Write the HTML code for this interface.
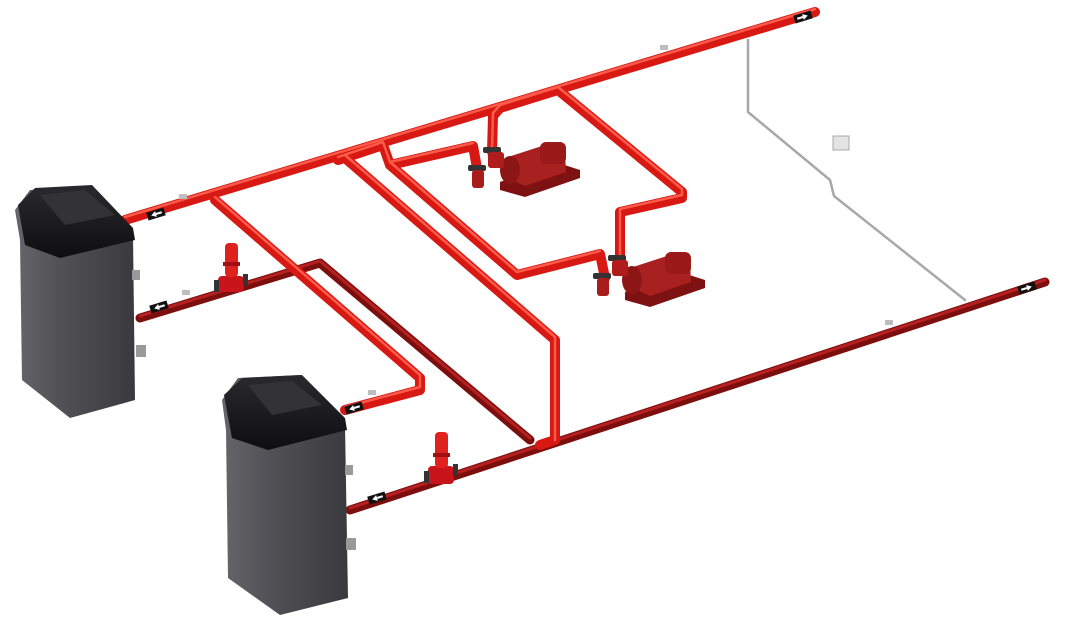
<!DOCTYPE html>
<html><head><meta charset="utf-8"><style>
html,body{margin:0;padding:0;background:#fff;width:1069px;height:630px;overflow:hidden}
svg{display:block}
</style></head><body>
<svg width="1069" height="630" viewBox="0 0 1069 630" xmlns="http://www.w3.org/2000/svg">
<defs>
<linearGradient id="bod" x1="0" x2="1"><stop offset="0" stop-color="#66666a"/><stop offset="0.35" stop-color="#525257"/><stop offset="1" stop-color="#3a3a3e"/></linearGradient>
<linearGradient id="top" x1="0" y1="0" x2="0" y2="1"><stop offset="0" stop-color="#2a2a2c"/><stop offset="1" stop-color="#0e0e10"/></linearGradient>
</defs>
<g fill="none" stroke-linecap="round" stroke-linejoin="round">
<polyline points="748,40 748,112 830,180 834,196 965,300" stroke="#a8a8a8" stroke-width="2.5"/>
<g stroke="#7d0e0e" stroke-width="9">
<polyline points="140,318 320,263 530,440"/>
<polyline points="350,510 1045,282"/>
</g>
<g stroke="#b52020" stroke-width="3">
<polyline points="140,316 320,261 530,438"/>
<polyline points="350,508 1045,280"/>
</g>
<g stroke="#d81812" stroke-width="10">
<polyline points="125,220 815,12"/>
<polyline points="215,200 420,378 420,390 345,410"/>
<polyline points="345,158 555,340 555,440 540,445"/>
<polyline points="338,160 383,145 390,165 473,146 477,168"/>
<polyline points="390,165 517,275 600,254 605,278"/>
<polyline points="558,90 682,192 682,198 620,212 620,258"/>
<polyline points="558,90 500,108 493,116 492,152"/>
</g>
<g stroke="#ff5a4a" stroke-width="2.5">
<polyline points="125,217 815,9"/>
<polyline points="215,197 420,375 420,387 345,407"/>
<polyline points="345,155 555,337 555,440"/>
<polyline points="338,157 383,142 390,162 473,143"/>
<polyline points="390,162 517,272 600,251"/>
<polyline points="558,87 682,189 682,195 620,209 620,258"/>
<polyline points="558,87 500,105 493,113 492,150"/>
</g>
</g>
<g fill="#bdbdbd">
<rect x="179" y="194" width="8" height="5"/><rect x="182" y="290" width="8" height="5"/>
<rect x="368" y="390" width="8" height="5"/><rect x="660" y="45" width="8" height="5"/>
<rect x="885" y="320" width="8" height="5"/>
</g>
<rect x="833" y="136" width="16" height="14" fill="#e4e4e4" stroke="#aaa"/>
<g>
<g transform="rotate(-17 156 214)"><rect x="147" y="210" width="18" height="8" fill="#111"/><polygon points="151,214 156,211 156,217" fill="#fff"/><rect x="156" y="213" width="6" height="2" fill="#fff"/></g>
<g transform="rotate(-17 159 307)"><rect x="150" y="303" width="18" height="8" fill="#111"/><polygon points="154,307 159,304 159,310" fill="#fff"/><rect x="159" y="306" width="6" height="2" fill="#fff"/></g>
<g transform="rotate(-17 354 408)"><rect x="345" y="404" width="18" height="8" fill="#111"/><polygon points="349,408 354,405 354,411" fill="#fff"/><rect x="354" y="407" width="6" height="2" fill="#fff"/></g>
<g transform="rotate(-17 377 498)"><rect x="368" y="494" width="18" height="8" fill="#111"/><polygon points="372,498 377,495 377,501" fill="#fff"/><rect x="377" y="497" width="6" height="2" fill="#fff"/></g>
<g transform="rotate(-17 803 17)"><rect x="794" y="13" width="18" height="8" fill="#111"/><polygon points="808,17 803,14 803,20" fill="#fff"/><rect x="797" y="16" width="6" height="2" fill="#fff"/></g>
<g transform="rotate(-17 1027 288)"><rect x="1018" y="284" width="18" height="8" fill="#111"/><polygon points="1032,288 1027,285 1027,291" fill="#fff"/><rect x="1021" y="287" width="6" height="2" fill="#fff"/></g>
</g>
<!-- inline pumps -->
<g>
<rect x="218" y="276" width="26" height="16" rx="4" fill="#c8141a"/><rect x="214" y="280" width="5" height="12" fill="#333"/><rect x="243" y="274" width="5" height="12" fill="#333"/>
<rect x="225" y="243" width="13" height="34" rx="4" fill="#e0221f"/><rect x="223" y="262" width="17" height="4" fill="#a01010"/>
<rect x="428" y="466" width="26" height="18" rx="4" fill="#c8141a"/><rect x="424" y="471" width="5" height="12" fill="#333"/><rect x="453" y="464" width="5" height="12" fill="#333"/>
<rect x="435" y="432" width="13" height="36" rx="4" fill="#e0221f"/><rect x="433" y="453" width="17" height="4" fill="#a01010"/>
</g>
<!-- base mounted pumps -->
<g>
<polygon points="500,182 555,162 580,170 580,178 525,197 500,190" fill="#7e1212"/>
<polygon points="505,158 545,145 565,152 566,172 525,186 508,178" fill="#a82020"/>
<rect x="540" y="142" width="26" height="22" rx="6" fill="#9a1a1a"/>
<ellipse cx="510" cy="170" rx="10" ry="14" fill="#8c1616"/>
<rect x="468" y="165" width="18" height="6" rx="2" fill="#333"/><rect x="483" y="147" width="18" height="6" rx="2" fill="#333"/>
<rect x="472" y="170" width="12" height="18" rx="3" fill="#a81c1c"/><rect x="488" y="152" width="16" height="16" rx="3" fill="#b01c1c"/>
<polygon points="625,292 680,272 705,280 705,288 650,307 625,300" fill="#7e1212"/>
<polygon points="630,268 670,255 690,262 691,282 650,296 633,288" fill="#a82020"/>
<rect x="665" y="252" width="26" height="22" rx="6" fill="#9a1a1a"/>
<ellipse cx="632" cy="280" rx="10" ry="14" fill="#8c1616"/>
<rect x="593" y="273" width="18" height="6" rx="2" fill="#333"/><rect x="608" y="255" width="18" height="6" rx="2" fill="#333"/>
<rect x="597" y="278" width="12" height="18" rx="3" fill="#a81c1c"/><rect x="612" y="260" width="16" height="16" rx="3" fill="#b01c1c"/>
</g>
<!-- boilers -->
<g>
<polygon points="15,210 30,190 90,186 133,235 135,400 70,418 22,380 20,240" fill="url(#bod)"/>
<polygon points="18,205 35,188 92,185 133,228 135,240 60,258 25,245" fill="url(#top)"/>
<polygon points="40,195 85,190 115,215 65,225" fill="#333336"/>
<rect x="132" y="270" width="8" height="10" fill="#999"/><rect x="136" y="345" width="10" height="12" fill="#999"/>
<polygon points="222,400 238,378 300,375 345,425 348,598 280,615 228,578 226,430" fill="url(#bod)"/>
<polygon points="224,395 242,378 302,375 345,418 347,430 268,450 232,438" fill="url(#top)"/>
<polygon points="248,385 292,381 322,405 272,415" fill="#333336"/>
<rect x="345" y="465" width="8" height="10" fill="#999"/><rect x="346" y="538" width="10" height="12" fill="#999"/>
</g>
</svg>
</body></html>
